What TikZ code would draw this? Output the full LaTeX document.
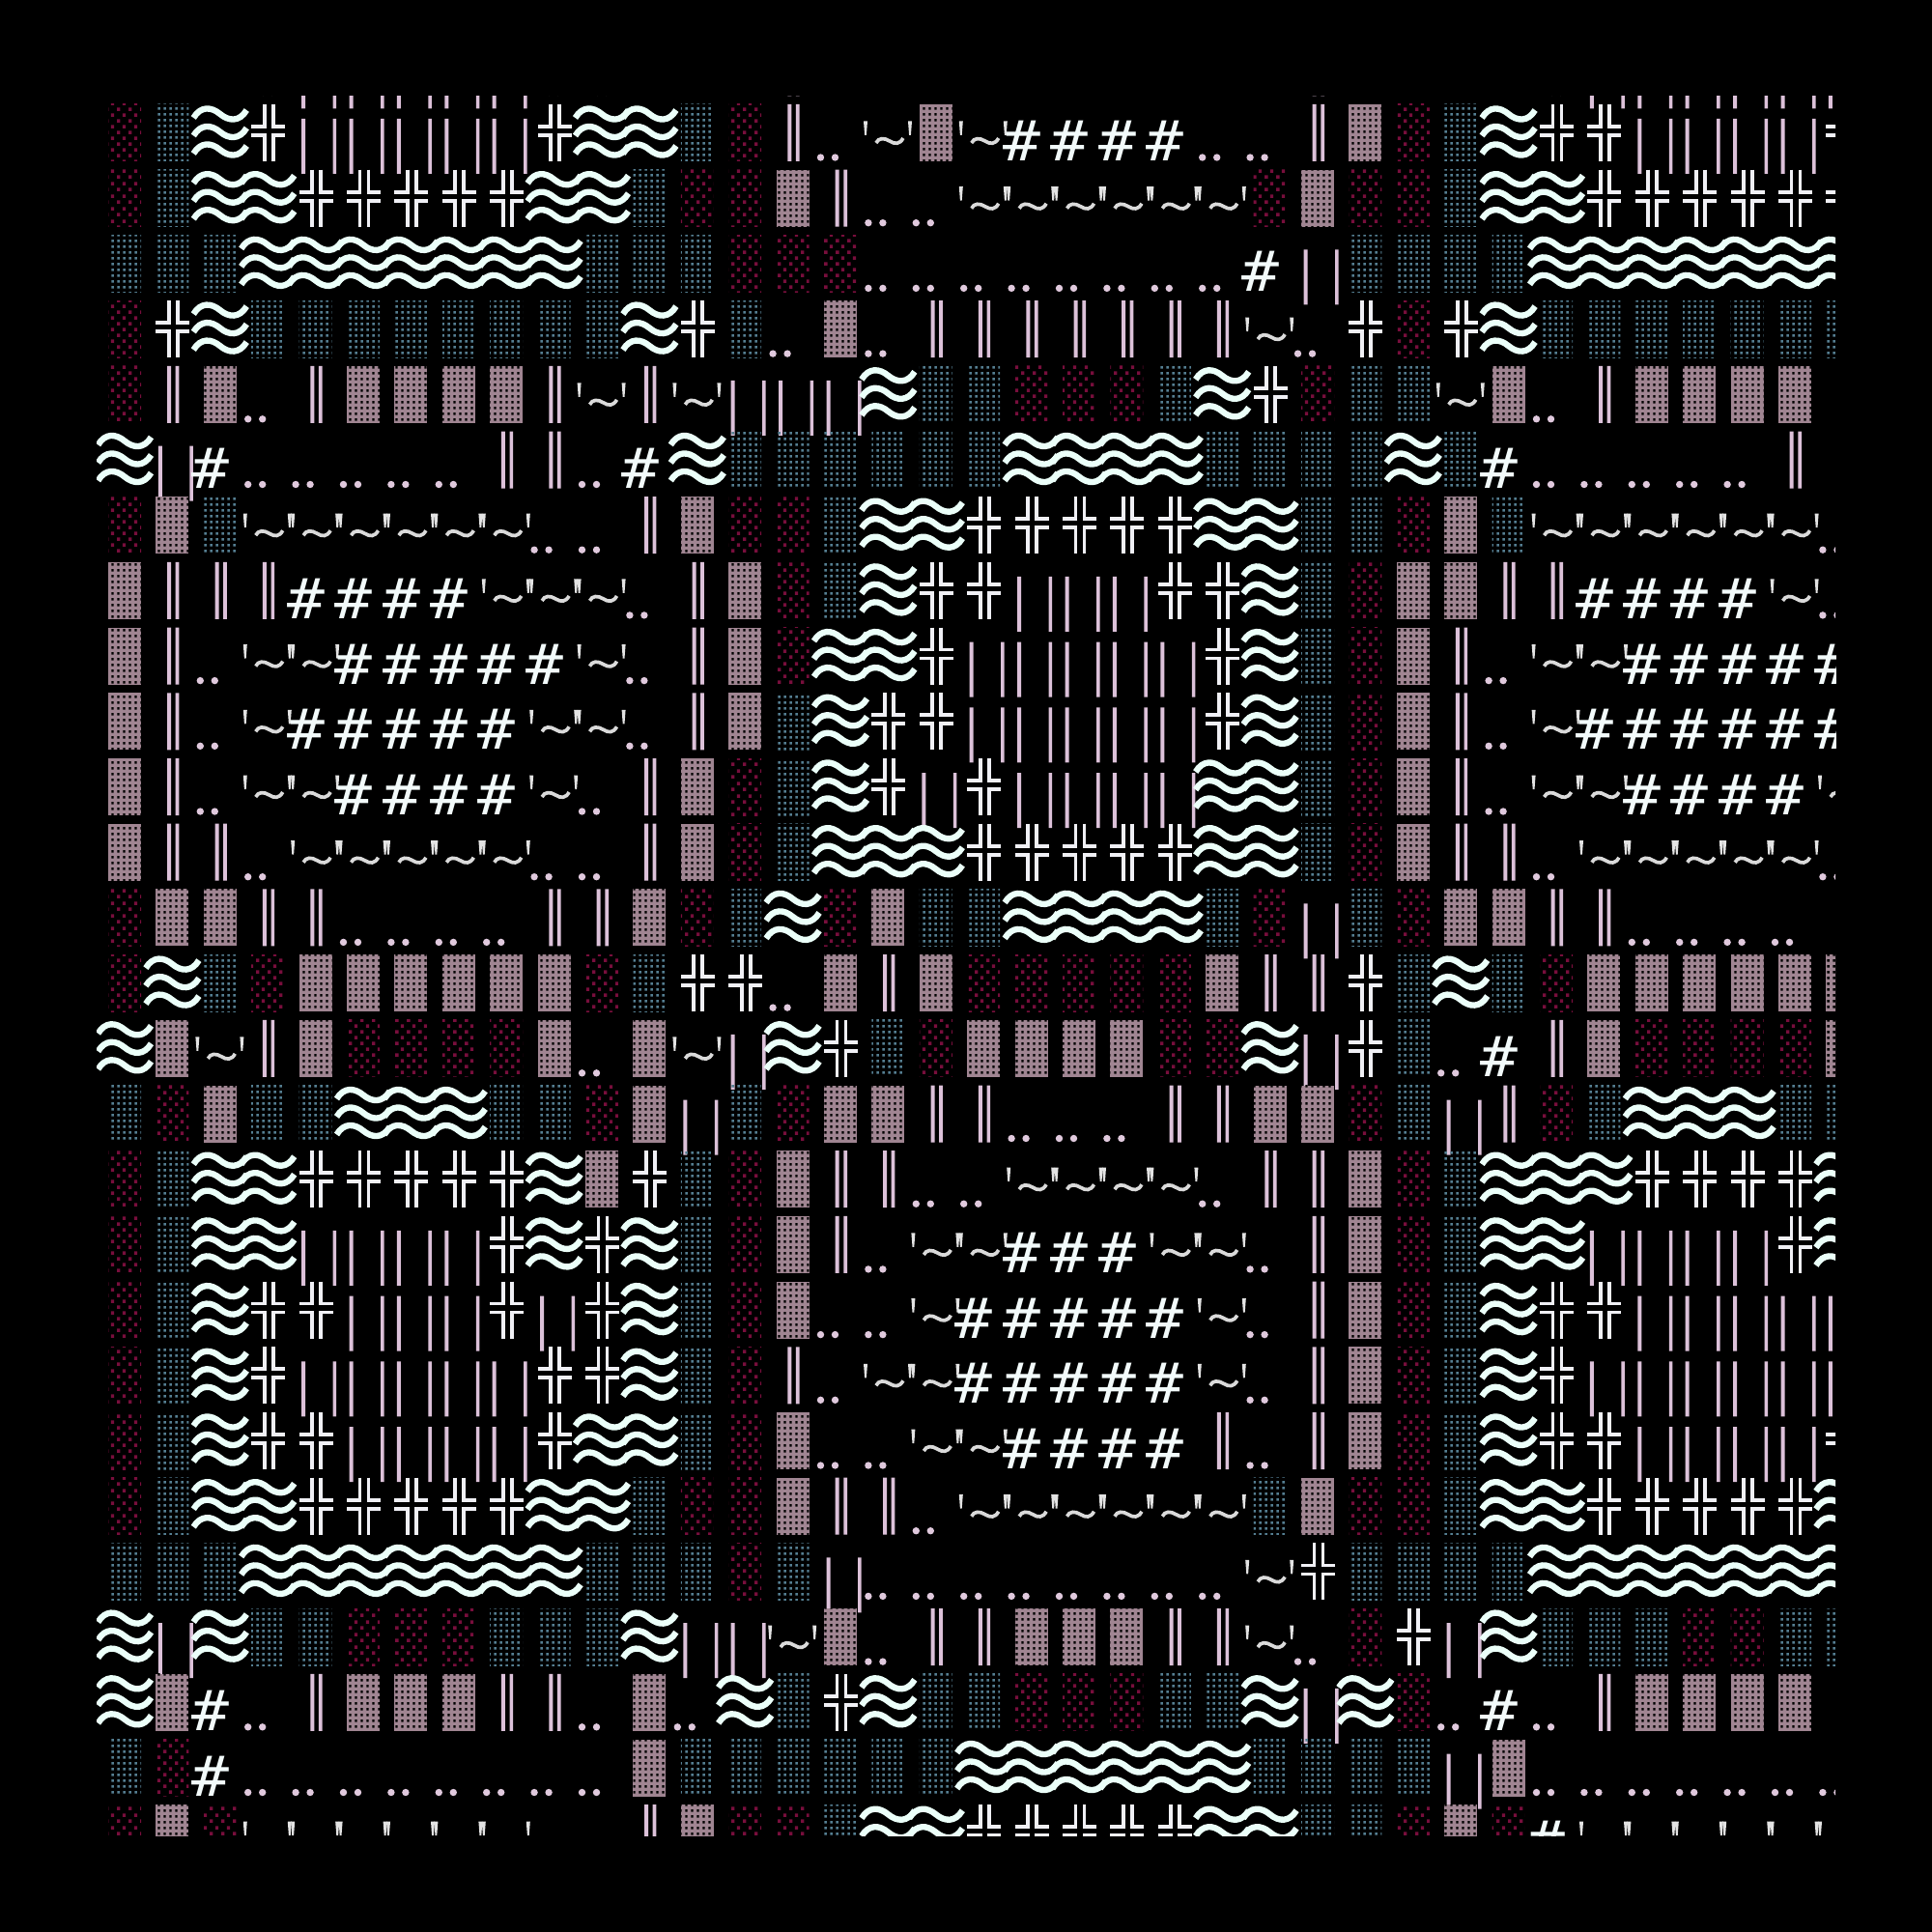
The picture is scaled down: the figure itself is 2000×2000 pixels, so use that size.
\documentclass[tikz,border=0pt]{standalone}
\usepackage{fontspec}
\newfontfamily\hashfont{DejaVu Sans Mono}
\usetikzlibrary{patterns.meta}
\definecolor{cRed}{HTML}{780E3C}
\definecolor{cTeal}{HTML}{557F92}
\definecolor{cPink}{HTML}{A08592}
\definecolor{cBar}{HTML}{DCC1D9}
\definecolor{cDot}{HTML}{E0C9DD}
\definecolor{cWave}{HTML}{EBFFF9}
\definecolor{cCross}{HTML}{F0F0F5}
\definecolor{cTick}{HTML}{E3E3E3}
\definecolor{cTilde}{HTML}{DADADA}
\definecolor{cHash}{HTML}{F2FAFA}
\pgfdeclarepattern{
  name=shLight, type=uncolored,
  bottom left={\pgfpoint{0pt}{0pt}},
  top right={\pgfpoint{3.414pt}{3.53pt}},
  tile size={\pgfpoint{3.414pt}{3.53pt}},
  code={
    \pgfpathrectangle{\pgfpoint{0.35pt}{0.35pt}}{\pgfpoint{1.0pt}{1.0pt}}
    \pgfpathrectangle{\pgfpoint{2.057pt}{2.115pt}}{\pgfpoint{1.0pt}{1.0pt}}
    \pgfusepath{fill}
  }
}
\pgfdeclarepattern{
  name=shMed, type=uncolored,
  bottom left={\pgfpoint{0pt}{0pt}},
  top right={\pgfpoint{1.707pt}{1.765pt}},
  tile size={\pgfpoint{1.707pt}{1.765pt}},
  code={
    \pgfpathrectangle{\pgfpoint{0.45pt}{0.45pt}}{\pgfpoint{0.8pt}{0.8pt}}
    \pgfusepath{fill}
  }
}
\pgfdeclarepattern{
  name=shDark, type=uncolored,
  bottom left={\pgfpoint{0pt}{0pt}},
  top right={\pgfpoint{1.707pt}{1.765pt}},
  tile size={\pgfpoint{1.707pt}{1.765pt}},
  code={
    \pgfpathrectangle{\pgfpoint{0.45pt}{0.45pt}}{\pgfpoint{0.76pt}{0.76pt}}
    \pgfusepath{fill}
  }
}
\tikzset{
  wavestroke/.style={draw=cWave, line width=1.8pt},
  crossstroke/.style={draw=cCross, line width=1.05pt},
  tildestroke/.style={draw=cTilde, line width=1.05pt},
  kr/.pic={\fill[pattern=shLight, pattern color=cRed] (12,8) rectangle (46,67);},
  kt/.pic={\fill[pattern=shMed, pattern color=cTeal] (12,8) rectangle (46,67);},
  kp/.pic={\fill[cPink] (12,8) rectangle (46,67);
           \fill[pattern=shDark, pattern color=black] (12,8) rectangle (46,67);},
  kw/.pic={\foreach \yy in {18,36.5,55}{
           \draw[wavestroke] (1.5,\yy+4) .. controls (9,\yy-8.5) and (20,\yy-7.5) .. (29,\yy)
                 .. controls (38,\yy+7.5) and (49,\yy+8.5) .. (56.5,\yy-4);}},
  kx/.pic={\draw[crossstroke] (25.5,8) -- (25.5,31) -- (12,31)
                 (34.5,8) -- (34.5,31) -- (47,31)
                 (25.5,67) -- (25.5,40) -- (12,40)
                 (34.5,67) -- (34.5,40) -- (47,40);},
  kv/.pic={\fill[cBar] (23.7,8) rectangle (27.7,67) (32.3,8) rectangle (36,67);},
  kB/.pic={\fill[cBar] (14.5,23) rectangle (18.5,80) (47,23) rectangle (50.5,80);},
  kd/.pic={\fill[cDot] (8.5,63) circle (1.05pt) (23.5,63) circle (1.05pt);},
  kq/.pic={\fill[cTick] (3.6,25.5) -- (7.6,25.5) -- (6.5,40) -- (4.7,40) -- cycle;
           \fill[cTick] (49.6,25.5) -- (53.6,25.5) -- (52.5,40) -- (50.7,40) -- cycle;
           \draw[tildestroke] (16.5,48) .. controls (19,42.5) and (25,42.5) .. (30.5,46)
                 .. controls (36,49.5) and (41,49.5) .. (44.5,43);},
  kQ/.pic={\pic {kq};},
  kh/.pic={\node[anchor=base west, inner sep=0pt, text=cHash,
                 font=\hashfont\fontsize{16.4pt}{16pt}\selectfont]
                 at (-1,66.5) {\scalebox{1.12}[1]{\#}};},
  ks/.pic={},
}
\newcommand\gridrow[2]{%
  \foreach \k [count=\i from 0] in {#2}{%
    \pgfmathsetmacro\xx{100+49.4*\i}%
    \pgfmathsetmacro\yy{100+67.7*(#1)}%
    \edef\doit{\noexpand\pic at (\xx,\yy) {k\k};}%
    \doit
  }%
}
\begin{document}
\begin{tikzpicture}[x=0.01cm, y=-0.01cm]
\useasboundingbox (0,0) rectangle (2000,2000);
\fill[black] (0,0) rectangle (2000,2000);
\begin{scope}
\clip (100,100) rectangle (1900,1900);
\gridrow{-1}{r,t,w,x,B,B,B,B,B,x,x,w,t, r,v,d,q,q,h,h,h,h,h,Q,d, v,p,r,t,w,x,B,B,B,B,B,B}
\gridrow{0}{r,t,w,x,B,B,B,B,B,x,w,w,t, r,v,d,Q,p,q,h,h,h,h,d,d, v,p,r,t,w,x,x,B,B,B,B,x}
\gridrow{1}{r,t,w,w,x,x,x,x,x,w,w,t,r, r,p,v,d,d,q,q,q,q,q,Q,r, p,r,r,t,w,w,x,x,x,x,x,x}
\gridrow{2}{t,t,t,w,w,w,w,w,w,w,t,t,t, r,r,r,d,d,d,d,d,d,d,d,h, B,t,t,t,t,w,w,w,w,w,w,w}
\gridrow{3}{r,x,w,t,t,t,t,t,t,t,t,w,x, t,d,p,d,v,v,v,v,v,v,v,Q, d,x,r,x,w,t,t,t,t,t,t,t}
\gridrow{4}{r,v,p,d,v,p,p,p,p,v,Q,v,Q, B,B,B,w,t,t,r,r,r,t,w,x, r,t,t,Q,p,d,v,p,p,p,p,s}
\gridrow{5}{w,B,h,d,d,d,d,d,v,v,d,h,w, t,t,t,t,t,t,w,w,w,w,t,t, t,t,w,t,h,d,d,d,d,d,v,s}
\gridrow{6}{r,p,t,q,q,q,q,q,Q,d,d,v,p, r,r,t,w,w,x,x,x,x,x,w,w, t,t,r,p,t,q,q,q,q,q,Q,d}
\gridrow{7}{p,v,v,v,h,h,h,h,q,q,Q,d,v, p,r,t,w,x,x,B,B,B,x,x,w, t,r,p,p,v,v,h,h,h,h,Q,d}
\gridrow{8}{p,v,d,q,q,h,h,h,h,h,Q,d,v, p,r,w,w,x,B,B,B,B,B,x,w, t,r,p,v,d,q,q,h,h,h,h,h}
\gridrow{9}{p,v,d,q,h,h,h,h,h,q,Q,d,v, p,t,w,x,x,B,B,B,B,B,x,w, t,r,p,v,d,q,h,h,h,h,h,h}
\gridrow{10}{p,v,d,q,q,h,h,h,h,Q,d,v,p, r,t,w,x,B,x,B,B,B,B,w,w, t,r,p,v,d,q,q,h,h,h,h,Q}
\gridrow{11}{p,v,v,d,q,q,q,q,Q,d,d,v,p, r,t,w,w,w,x,x,x,x,x,w,w, t,r,p,v,v,d,q,q,q,q,Q,d}
\gridrow{12}{r,p,p,v,v,d,d,d,d,v,v,p,r, t,w,r,p,t,t,w,w,w,w,t,r, B,t,r,p,p,v,v,d,d,d,d,s}
\gridrow{13}{r,w,t,r,p,p,p,p,p,p,r,t,x, x,d,p,v,p,r,r,r,r,r,p,v, v,x,t,w,t,r,p,p,p,p,p,p}
\gridrow{14}{w,p,Q,v,p,r,r,r,r,p,d,p,Q, B,w,x,t,r,p,p,p,p,r,r,w, B,x,t,d,h,v,p,r,r,r,r,p}
\gridrow{15}{t,r,p,t,t,w,w,w,t,t,r,p,B, t,r,p,p,v,v,d,d,d,v,v,p, p,r,t,B,v,r,t,w,w,w,t,t}
\gridrow{16}{r,t,w,w,x,x,x,x,x,w,p,x,t, r,p,v,v,d,d,q,q,q,Q,d,v, v,p,r,t,w,w,w,x,x,x,x,w}
\gridrow{17}{r,t,w,w,B,B,B,B,x,w,x,w,t, r,p,v,d,q,q,h,h,h,q,Q,d, v,p,r,t,w,w,B,B,B,B,x,w}
\gridrow{18}{r,t,w,x,x,B,B,B,x,B,x,w,t, r,p,d,d,q,h,h,h,h,h,Q,d, v,p,r,t,w,x,x,B,B,B,B,B}
\gridrow{19}{r,t,w,x,B,B,B,B,B,x,x,w,t, r,v,d,q,q,h,h,h,h,h,Q,d, v,p,r,t,w,x,B,B,B,B,B,B}
\gridrow{20}{r,t,w,x,x,B,B,B,B,x,w,w,t, r,p,d,d,q,q,h,h,h,h,v,d, v,p,r,t,w,x,x,B,B,B,B,x}
\gridrow{21}{r,t,w,w,x,x,x,x,x,w,w,t,r, r,p,v,v,d,q,q,q,q,q,Q,t, p,r,r,t,w,w,x,x,x,x,x,w}
\gridrow{22}{t,t,t,w,w,w,w,w,w,w,t,t,t, r,t,B,d,d,d,d,d,d,d,d,Q, x,t,t,t,t,w,w,w,w,w,w,w}
\gridrow{23}{w,B,w,t,t,r,r,r,t,t,t,w,B, B,Q,p,d,v,v,p,p,p,v,v,Q, d,r,x,B,w,t,t,t,r,r,t,t}
\gridrow{24}{w,p,h,d,v,p,p,p,v,v,d,p,d, w,t,x,w,t,t,r,r,r,t,t,w, B,w,r,d,h,d,v,p,p,p,p,s}
\gridrow{25}{t,r,h,d,d,d,d,d,d,d,d,p,t, t,t,t,t,t,w,w,w,w,w,w,t, t,t,t,B,p,d,d,d,d,d,d,d}
\gridrow{26}{r,p,r,q,q,q,q,q,Q,d,d,v,p, r,r,t,w,w,x,x,x,x,x,w,w, t,t,r,p,r,h,q,q,q,q,q,Q}
\end{scope}
\end{tikzpicture}
\end{document}
